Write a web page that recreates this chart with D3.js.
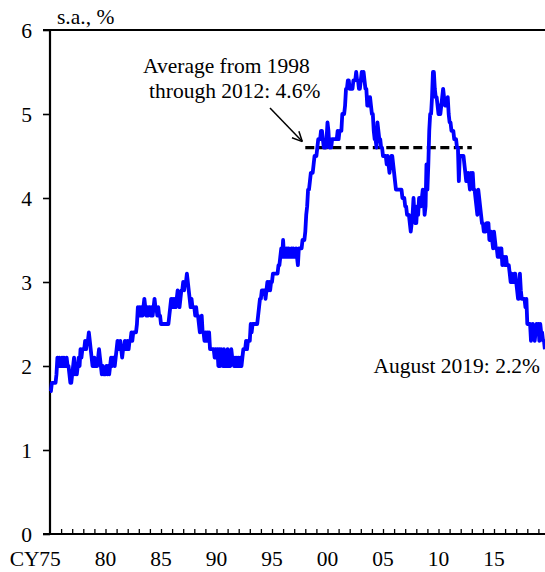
<!DOCTYPE html>
<html>
<head>
<meta charset="utf-8">
<script src="https://cdn.jsdelivr.net/npm/d3@7"></script>
<style>
  body { margin: 0; background: #fff; }
  svg text { font-family: "Liberation Serif", "Times New Roman", serif; fill: #000; }
</style>
</head>
<body>
<svg id="chart" width="545" height="572"></svg>
<script>
// monthly unemployment rate, s.a., %, Jan 1975 - Aug 2019
var startYear = 1975;
var rate1975_1984 = [
  1.7,1.7,1.8,1.8,1.8,1.8,1.8,1.9,2.1,2.0,2.1,2.0,
  2.0,2.1,2.0,2.1,2.0,2.0,2.1,2.0,2.0,1.9,1.8,1.8,
  1.9,2.0,2.1,1.9,2.0,1.9,2.0,2.1,2.0,2.2,2.1,2.2,
  2.2,2.2,2.3,2.2,2.3,2.3,2.4,2.3,2.2,2.1,2.0,2.0,
  2.1,2.0,2.0,2.0,2.1,2.2,2.1,2.0,1.9,2.0,1.9,1.9,
  1.9,2.0,1.9,2.0,1.9,2.0,2.1,2.0,2.1,2.1,2.0,2.1,
  2.2,2.3,2.2,2.2,2.3,2.2,2.1,2.2,2.2,2.3,2.2,2.2,
  2.3,2.2,2.3,2.3,2.4,2.3,2.4,2.4,2.4,2.4,2.5,2.7,
  2.6,2.7,2.6,2.7,2.6,2.7,2.8,2.7,2.6,2.7,2.6,2.7,
  2.7,2.6,2.7,2.6,2.7,2.8,2.7,2.7,2.6,2.7,2.6,2.6
];
var rate1985_1994 = [
  2.5,2.5,2.5,2.5,2.5,2.5,2.5,2.5,2.5,2.6,2.7,2.8,
  2.7,2.8,2.7,2.8,2.7,2.8,2.9,2.8,2.7,2.8,2.9,2.9,
  3.0,2.9,3.0,3.0,3.1,3.0,2.9,2.8,2.7,2.8,2.7,2.7,
  2.7,2.6,2.7,2.6,2.6,2.5,2.4,2.5,2.6,2.4,2.4,2.3,
  2.4,2.3,2.4,2.3,2.4,2.2,2.2,2.2,2.2,2.2,2.1,2.2,
  2.1,2.2,2.0,2.2,2.0,2.2,2.1,2.0,2.2,2.0,2.1,2.0,
  2.2,2.0,2.1,2.0,2.2,2.1,2.1,2.0,2.1,2.0,2.1,2.0,
  2.1,2.0,2.1,2.0,2.1,2.2,2.2,2.2,2.3,2.2,2.3,2.3,
  2.3,2.5,2.4,2.5,2.5,2.5,2.5,2.5,2.5,2.6,2.7,2.8,
  2.8,2.9,2.9,2.9,2.9,2.8,2.9,3.0,2.9,3.0,2.9,3.0
];
var rate1995_2004 = [
  3.0,3.1,3.1,3.1,3.1,3.1,3.1,3.2,3.2,3.3,3.4,3.3,
  3.5,3.3,3.4,3.3,3.4,3.3,3.4,3.3,3.3,3.4,3.3,3.4,
  3.3,3.3,3.4,3.3,3.2,3.4,3.4,3.4,3.4,3.5,3.5,3.5,
  3.6,3.8,3.9,4.1,4.1,4.2,4.3,4.3,4.3,4.4,4.5,4.5,
  4.5,4.6,4.7,4.7,4.7,4.8,4.8,4.7,4.6,4.6,4.6,4.7,
  4.9,4.8,4.6,4.7,4.6,4.7,4.7,4.7,4.7,4.7,4.7,4.8,
  4.7,4.8,4.8,4.8,5.0,5.0,5.0,5.1,5.3,5.3,5.4,5.4,
  5.3,5.3,5.3,5.3,5.4,5.4,5.4,5.5,5.4,5.4,5.3,5.3,
  5.4,5.5,5.4,5.5,5.4,5.3,5.3,5.1,5.2,5.1,5.2,5.1,
  5.0,5.0,4.8,4.7,4.7,4.6,4.9,4.8,4.7,4.7,4.6,4.6
];
var rate2005_2019 = [
  4.5,4.5,4.5,4.5,4.4,4.5,4.4,4.3,4.4,4.5,4.5,4.4,
  4.3,4.2,4.1,4.1,4.1,4.1,4.1,4.1,4.1,4.0,4.0,4.0,
  3.9,3.9,3.8,3.8,3.8,3.7,3.6,3.7,3.8,4.0,3.8,3.7,
  3.7,3.9,3.8,4.0,4.0,3.9,4.0,4.1,4.0,3.8,3.9,4.4,
  4.1,4.4,4.8,5.0,5.0,5.2,5.5,5.5,5.3,5.2,5.2,5.1,
  5.0,5.1,5.0,5.1,5.2,5.3,5.2,5.1,5.1,5.1,5.2,5.0,
  4.9,4.9,4.8,4.8,4.8,4.7,4.7,4.7,4.6,4.6,4.2,4.5,
  4.5,4.5,4.5,4.5,4.4,4.3,4.2,4.2,4.3,4.2,4.1,4.3,
  4.2,4.3,4.1,4.1,4.0,3.9,3.8,4.1,4.0,3.9,3.8,3.7,
  3.7,3.6,3.6,3.6,3.7,3.7,3.7,3.5,3.6,3.6,3.5,3.4,
  3.6,3.5,3.4,3.4,3.3,3.4,3.3,3.4,3.4,3.2,3.3,3.3,
  3.2,3.3,3.2,3.2,3.2,3.1,3.0,3.1,3.0,3.0,3.1,3.1,
  3.0,2.9,2.8,2.8,3.1,2.9,2.8,2.8,2.8,2.8,2.7,2.8,
  2.5,2.5,2.5,2.5,2.3,2.4,2.5,2.4,2.3,2.4,2.5,2.4,
  2.5,2.3,2.5,2.4,2.4,2.3,2.3,2.2
];

var avgStart = 1998, avgEnd = 2013, avgValue = 4.6;
var yTicks = [0, 1, 2, 3, 4, 5, 6];
var xLabelYears = [1975, 1980, 1985, 1990, 1995, 2000, 2005, 2010, 2015];
var xLabels = ["75", "80", "85", "90", "95", "00", "05", "10", "15"];

(function(){
var rates = rate1975_1984.concat(rate1985_1994, rate1995_2004, rate2005_2019);
var series = rates.map(function(v, i){
  return {"t": startYear + i/12, "v": v};
});

var svg = d3.select("#chart");
var pLeft = 50, pRight = 545, pTop = 30, pBottom = 534;
var fs = 21.5;

var x = d3.scaleLinear()
    .domain([1975, 1975 + (pRight-pLeft)/11.1])
    .range([pLeft, pRight]);

var y = d3.scaleLinear()
    .domain([0, 6])
    .range([pBottom, pTop]);

// top frame line
svg.append("line")
  .attr("x1", 43).attr("x2", pRight)
  .attr("y1", y(6)).attr("y2", y(6))
  .attr("stroke", "#000").attr("stroke-width", 2);

// y axis
var yAxis = d3.axisLeft(y).tickValues(yTicks).tickSize(7).tickPadding(11)
    .tickFormat(d3.format("d"));
var gy = svg.append("g").attr("transform", "translate(" + pLeft + ",0)").call(yAxis);
gy.select(".domain").remove();
gy.selectAll(".tick line").attr("stroke-width", 1.6);
gy.selectAll(".tick text")
  .attr("font-size", fs)
  .attr("font-family", "Liberation Serif, serif")
  .attr("dy", "0.36em");
svg.append("line")
  .attr("x1", pLeft).attr("x2", pLeft)
  .attr("y1", pTop-1).attr("y2", pBottom+1)
  .attr("stroke", "#000").attr("stroke-width", 2.2);

// x axis: yearly ticks pointing up
var years = d3.range(1976, 2020);
var xAxis = d3.axisBottom(x).tickValues(years).tickSize(-5).tickFormat("");
var gx = svg.append("g").attr("transform", "translate(0," + pBottom + ")").call(xAxis);
gx.select(".domain").remove();
gx.selectAll(".tick line").attr("stroke-width", 1.3);
svg.append("line")
  .attr("x1", 43).attr("x2", pRight)
  .attr("y1", pBottom).attr("y2", pBottom)
  .attr("stroke", "#000").attr("stroke-width", 2.2);

svg.selectAll(".xlab")
  .data(xLabelYears)
  .enter().append("text")
  .attr("class", "xlab")
  .attr("x", function(d){ return x(d); })
  .attr("y", 566)
  .attr("text-anchor", "middle")
  .attr("font-size", fs)
  .text(function(d, i){ return xLabels[i]; });

svg.append("text")
  .attr("x", x(1975) - 10.5)
  .attr("y", 566)
  .attr("text-anchor", "end")
  .attr("font-size", fs)
  .text("CY");

svg.append("text")
  .attr("x", 57).attr("y", 24)
  .attr("font-size", fs)
  .text("s.a., %");

// average line
svg.append("line")
  .attr("x1", x(avgStart)).attr("x2", x(avgEnd))
  .attr("y1", y(avgValue)).attr("y2", y(avgValue))
  .attr("stroke", "#000").attr("stroke-width", 3.4)
  .attr("stroke-dasharray", "9,4.5");

// series line
var line = d3.line()
    .x(function(d){ return x(d.t); })
    .y(function(d){ return y(d.v); });

svg.append("path")
  .datum(series)
  .attr("d", line)
  .attr("fill", "none")
  .attr("stroke", "#0000ff")
  .attr("stroke-width", 3.8)
  .attr("stroke-linejoin", "round");

// annotation
svg.append("text").attr("x", 143).attr("y", 73).attr("font-size", fs).text("Average from 1998");
svg.append("text").attr("x", 149).attr("y", 98).attr("font-size", fs).text("through 2012: 4.6%");

var ax1 = 270, ay1 = 108, ax2 = x(avgStart) - 3, ay2 = y(avgValue) - 6;
svg.append("line")
  .attr("x1", ax1).attr("y1", ay1).attr("x2", ax2).attr("y2", ay2)
  .attr("stroke", "#000").attr("stroke-width", 1.5);
var ang = Math.atan2(ay2 - ay1, ax2 - ax1);
[-0.45, 0.45].forEach(function(da){
  svg.append("line")
    .attr("x1", ax2).attr("y1", ay2)
    .attr("x2", ax2 - 11*Math.cos(ang + da))
    .attr("y2", ay2 - 11*Math.sin(ang + da))
    .attr("stroke", "#000").attr("stroke-width", 1.5);
});

svg.append("text")
  .attr("x", 540).attr("y", 373)
  .attr("text-anchor", "end")
  .attr("font-size", fs)
  .text("August 2019: 2.2%");
})();
</script>
</body>
</html>
